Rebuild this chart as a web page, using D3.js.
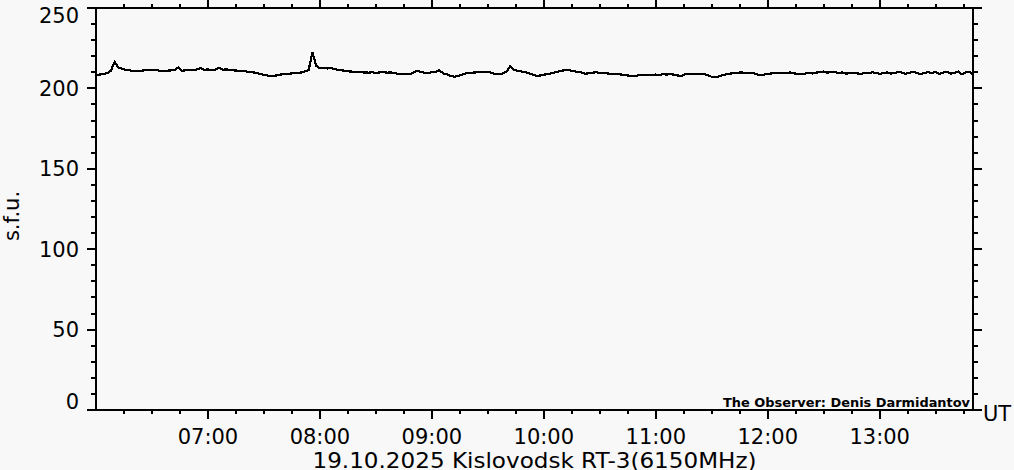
<!DOCTYPE html>
<html><head><meta charset="utf-8">
<script src="https://cdn.jsdelivr.net/npm/d3@7"></script>
<style>
html,body{margin:0;padding:0;background:#f8f8f8;}
svg{display:block;font-family:"DejaVu Sans",sans-serif;}
</style></head><body>
<svg id="c" width="1014" height="470"></svg>
<script>
// ---- data ----
const startTime = "06:00";
const endTime = "13:50";
const stepMinutes = 2;
const flux = [
208.3,208.6,209.0,209.5,211.0,216.5,212.8,212.2,211.6,211.2,
210.9,210.8,211.0,211.2,211.5,211.7,211.4,211.0,210.8,211.0,
211.2,211.4,213.0,211.0,211.2,211.5,211.4,211.7,212.6,211.6,
211.8,211.5,211.7,212.7,211.6,211.8,211.5,211.2,211.0,210.8,
210.6,210.3,210.0,209.6,209.0,208.4,208.0,207.7,207.9,208.4,
208.8,208.9,209.2,209.4,209.6,209.9,210.5,211.6,222.5,214.0,
212.5,212.8,212.4,212.6,212.0,211.5,211.2,210.9,210.5,210.4,
210.2,210.0,209.9,209.8,210.0,209.7,209.9,210.1,209.8,209.9,
209.5,209.1,208.8,208.9,208.8,209.6,211.0,210.2,209.8,209.7,
210.0,210.3,211.3,209.4,208.7,207.8,207.3,207.6,208.4,209.3,
209.5,209.8,210.0,210.2,210.3,210.4,209.6,208.8,208.9,209.2,
210.5,213.8,211.6,211.0,210.5,210.2,209.4,208.6,207.8,208.0,
208.5,208.9,209.4,210.0,210.6,211.1,211.4,211.2,210.8,210.3,
209.9,209.1,209.4,209.8,210.0,209.7,209.6,209.3,209.0,208.8,
208.9,208.5,208.2,207.9,207.7,208.0,208.4,208.2,208.5,208.3,
208.6,208.4,208.8,208.6,208.9,208.5,208.0,207.8,209.0,208.8,
209.0,208.7,208.9,208.8,208.2,207.2,206.9,207.6,208.3,208.8,
209.2,209.6,209.8,209.9,209.7,209.8,209.5,208.8,208.3,208.6,
209.0,209.3,209.6,209.5,209.8,209.6,209.9,209.4,209.0,208.8,
209.2,209.6,209.3,209.9,210.0,210.5,209.8,210.4,210.1,209.6,
209.9,209.2,209.5,209.8,209.3,209.0,209.7,209.4,210.0,209.6,
209.1,209.5,209.9,209.2,209.6,210.2,209.8,209.1,209.7,210.3,
209.5,208.9,209.6,210.1,209.4,210.3,209.0,209.8,210.4,209.2,
209.7,210.5,208.8,209.9,210.2,208.7
];
const yMajorTicks = [0, 50, 100, 150, 200, 250];
const yMinorStep = 10;
const xMinorMinutes = 15;
const yLabel = "s.f.u.";
const xUnit = "UT";
const titleText = "19.10.2025 Kislovodsk RT-3(6150MHz)";
const observerText = "The Observer: Denis Darmidantov";

// ---- layout ----
const L = 96, R = 973, T = 8, B = 410;
const svg = d3.select("#c");
svg.append("rect").attr("width",1014).attr("height",470).attr("fill","#f8f8f8");

const parse = d3.timeParse("%H:%M");
const t0 = parse(startTime), t1 = parse(endTime);
const x = d3.scaleTime().domain([t0, t1]).range([L, R]);
const y = d3.scaleLinear().domain([0, 250]).range([B, T]);

const pts = flux.map((v, i) => [new Date(t0.getTime() + i * stepMinutes * 60000), v]);

const minorX = d3.timeMinute.every(xMinorMinutes).range(t0, t1).filter(d => d > t0);
const majorX = d3.timeHour.range(new Date(t0.getTime()+1), t1);
const minorY = d3.range(0, 251, yMinorStep);

function styleAxis(g){
  g.select(".domain").remove();
  g.selectAll("line").attr("stroke","#000").attr("stroke-width",2).attr("shape-rendering","crispEdges");
  g.selectAll("text").attr("fill","#000").attr("font-size",21).attr("font-family","DejaVu Sans, sans-serif");
}

// minor ticks
svg.append("g").attr("transform",`translate(0,${B})`)
  .call(d3.axisBottom(x).tickValues(minorX).tickSize(4).tickFormat("").offset(0)).call(styleAxis);
svg.append("g").attr("transform",`translate(0,${T})`)
  .call(d3.axisTop(x).tickValues(minorX).tickSize(4).tickFormat("").offset(0)).call(styleAxis);
svg.append("g").attr("transform",`translate(${L},0)`)
  .call(d3.axisLeft(y).tickValues(minorY).tickSize(5).tickFormat("").offset(0)).call(styleAxis);
svg.append("g").attr("transform",`translate(${R},0)`)
  .call(d3.axisRight(y).tickValues(minorY).tickSize(5).tickFormat("").offset(0)).call(styleAxis);

// major ticks
svg.append("g").attr("transform",`translate(0,${B})`)
  .call(d3.axisBottom(x).tickValues(majorX).tickSize(9).tickPadding(10)
    .tickFormat(d3.timeFormat("%H:%M")).offset(0)).call(styleAxis);
svg.append("g").attr("transform",`translate(0,${T})`)
  .call(d3.axisTop(x).tickValues(majorX).tickSize(9).tickFormat("").offset(0)).call(styleAxis);
const gyl = svg.append("g").attr("transform",`translate(${L},0)`)
  .call(d3.axisLeft(y).tickValues(yMajorTicks).tickSize(9).tickPadding(8).offset(0)).call(styleAxis);
gyl.selectAll(".tick text").attr("dy", d => d === 250 ? "0.7em" : d === 0 ? "0" : "0.36em")
  .attr("y", d => d === 0 ? -1 : 0);
svg.append("g").attr("transform",`translate(${R},0)`)
  .call(d3.axisRight(y).tickValues(yMajorTicks).tickSize(9).tickFormat("").offset(0)).call(styleAxis);

// frame
svg.append("rect").attr("x",L).attr("y",T).attr("width",R-L).attr("height",B-T)
  .attr("fill","none").attr("stroke","#000").attr("stroke-width",2).attr("shape-rendering","crispEdges");

// data line
svg.append("path").datum(pts)
  .attr("d", d3.line().x(d => x(d[0])).y(d => y(d[1])))
  .attr("fill","none").attr("stroke","#000").attr("stroke-width",2.2)
  .attr("stroke-linejoin","miter").attr("shape-rendering","crispEdges");

// texts
svg.append("text").attr("transform","translate(19,216) rotate(-90)")
  .attr("text-anchor","middle").attr("font-size",21).text(yLabel);
svg.append("text").attr("x",983).attr("y",421).attr("font-size",21).text(xUnit);
svg.append("text").attr("x",(L+R)/2).attr("y",468).attr("text-anchor","middle")
  .attr("font-size",21).attr("textLength",444).attr("lengthAdjust","spacingAndGlyphs").text(titleText);
svg.append("text").attr("x",970).attr("y",407).attr("text-anchor","end")
  .attr("font-size",12).attr("font-weight","bold")
  .attr("textLength",247).attr("lengthAdjust","spacingAndGlyphs").text(observerText);
</script>
</body></html>
